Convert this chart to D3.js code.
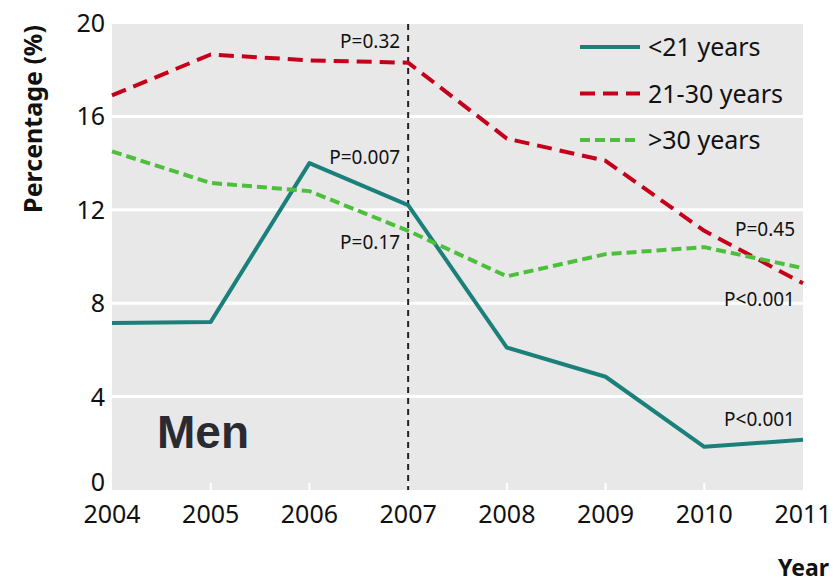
<!DOCTYPE html>
<html><head><meta charset="utf-8">
<script src="https://cdn.jsdelivr.net/npm/d3@7"></script>
<style>body{margin:0;background:#fff}svg{display:block}</style>
</head><body>
<svg id="c" width="835" height="585"></svg>
<script>
const years = [2004,2005,2006,2007,2008,2009,2010,2011];
const under21 = [7.15,7.2,14.0,12.2,6.1,4.85,1.85,2.15];
const age21to30 = [16.9,18.65,18.4,18.3,15.05,14.1,11.1,8.85];
const over30 = [14.5,13.15,12.8,11.1,9.15,10.1,10.4,9.5];
const yTicks = [0,4,8,12,16,20];
const seriesNames = ["<21 years","21-30 years",">30 years"];
const pLabels = [
  {x:2007, v:18.95, t:"P=0.32"},
  {x:2007, v:13.95, t:"P=0.007"},
  {x:2007, v:10.3, t:"P=0.17"},
  {x:2011, v:10.88, t:"P=0.45"},
  {x:2011, v:7.88, t:"P<0.001"},
  {x:2011, v:2.74, t:"P<0.001"}
];

const svg = d3.select("#c");
const x = d3.scaleLinear().domain([2004,2011]).range([112,803]);
const y = d3.scaleLinear().domain([0,20]).range([490,23]);
const font = "'Noto Sans', sans-serif";

svg.append("rect").attr("x",x(2004)).attr("y",24).attr("width",x(2011)-x(2004)).attr("height",y(0)-24).attr("fill","#e8e8e8");

// gridlines
svg.append("g").selectAll("line").data(yTicks.filter(d=>d>0&&d<20)).join("line")
  .attr("x1",x(2004)).attr("x2",x(2011)).attr("y1",d=>y(d)).attr("y2",d=>y(d))
  .attr("stroke","#fff").attr("stroke-width",3);
// x tick marks
svg.append("g").selectAll("line").data(years.slice(1,-1)).join("line")
  .attr("x1",d=>x(d)).attr("x2",d=>x(d)).attr("y1",y(0)).attr("y2",y(0)-7)
  .attr("stroke","#fff").attr("stroke-width",2);

// y tick labels
svg.append("g").selectAll("text").data(yTicks).join("text")
  .attr("x",105).attr("y",d=>y(d)+(d===0?1:9)).attr("text-anchor","end")
  .attr("font-family",font).attr("font-size",25).attr("fill","#111").text(d=>d);
// x tick labels
svg.append("g").selectAll("text").data(years).join("text")
  .attr("x",d=>x(d)).attr("y",523).attr("text-anchor","middle")
  .attr("font-family",font).attr("font-size",25).attr("fill","#111").text(d=>d);

svg.append("text").attr("transform","translate(42,119) rotate(-90)").attr("text-anchor","middle")
  .attr("font-family",font).attr("font-weight","bold").attr("font-size",25).attr("fill","#111").text("Percentage (%)");
svg.append("text").attr("x",829).attr("y",576).attr("text-anchor","end")
  .attr("font-family",font).attr("font-weight","bold").attr("font-size",23).attr("fill","#111").text("Year");

// vertical dashed 2007
svg.append("line").attr("x1",x(2007)).attr("x2",x(2007)).attr("y1",24).attr("y2",y(0))
  .attr("stroke","#222").attr("stroke-width",2).attr("stroke-dasharray","6,5");

const line = d3.line().x((d,i)=>x(years[i])).y(d=>y(d));
const styles = [
  {data:under21, color:"#1b7f7a", dash:null, w:4},
  {data:age21to30, color:"#c5001a", dash:"15,8", w:4},
  {data:over30, color:"#4dbf3c", dash:"10,5", w:4}
];
styles.forEach(s=>{
  svg.append("path").datum(s.data).attr("d",line).attr("fill","none")
    .attr("stroke",s.color).attr("stroke-width",s.w).attr("stroke-linejoin","round")
    .attr("stroke-dasharray",s.dash);
});

// P labels
svg.append("g").selectAll("text").data(pLabels).join("text")
  .attr("x",d=>x(d.x)-8).attr("y",d=>y(d.v))
  .attr("text-anchor","end").attr("font-family",font).attr("font-size",19).attr("fill","#111").text(d=>d.t);

// legend
const lg = svg.append("g");
styles.forEach((s,i)=>{
  const yy = 47 + i*46.5;
  lg.append("line").attr("x1",580).attr("x2",640).attr("y1",yy).attr("y2",yy)
    .attr("stroke",s.color).attr("stroke-width",4).attr("stroke-dasharray",s.dash);
  lg.append("text").attr("x",648).attr("y",yy+9).attr("font-family",font).attr("font-size",25)
    .attr("fill","#111").text(seriesNames[i]);
});

svg.append("text").attr("x",157).attr("y",448).attr("font-family","'Liberation Sans', Arial, sans-serif")
  .attr("font-weight","bold").attr("font-size",46).attr("fill","#2a2a33").text("Men");
</script>
</body></html>
